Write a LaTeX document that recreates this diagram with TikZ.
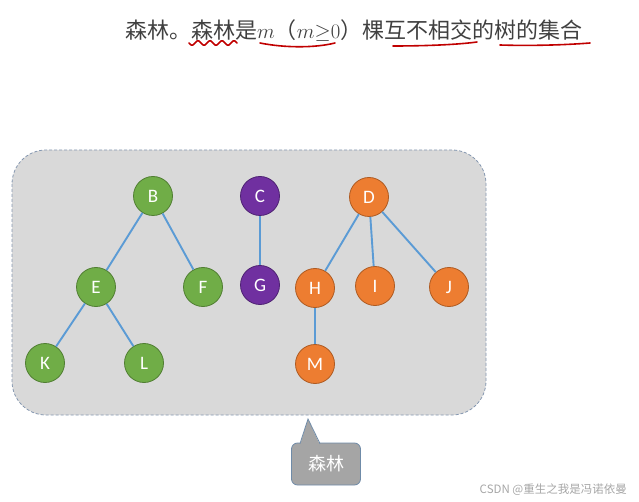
\documentclass[tikz,border=0pt]{standalone}
\usepackage{fontspec}
\newfontfamily\cjk{Noto Sans CJK SC}
\newfontfamily\nodefont{Carlito}
\definecolor{Verde}{HTML}{70AD47}
\definecolor{VerdeB}{HTML}{507E32}
\definecolor{Morado}{HTML}{7030A0}
\definecolor{MoradoB}{HTML}{4E2272}
\definecolor{Naranja}{HTML}{ED7D31}
\definecolor{NaranjaB}{HTML}{AE5A21}
\definecolor{Arista}{HTML}{5B9BD5}
\definecolor{Fondo}{HTML}{D9D9D9}
\definecolor{Borde}{HTML}{8497B0}
\definecolor{Globo}{HTML}{A5A5A5}
\definecolor{GloboB}{HTML}{6F8BA8}
\definecolor{Tinta}{HTML}{C00000}
\usetikzlibrary{positioning}

\begin{document}
\begin{tikzpicture}[
  x=1pt, y=-1pt,
  vert/.style={
    circle, minimum size=39pt, inner sep=0pt,
    line width=0.8pt, text=white,
    font=\nodefont\fontsize{19}{19}\selectfont
  },
  gtree/.style={vert, draw=VerdeB, fill=Verde},
  ptree/.style={vert, draw=MoradoB, fill=Morado},
  otree/.style={vert, draw=NaranjaB, fill=Naranja},
  edge/.style={line width=1.9pt, color=Arista},
  marca/.style={line width=1.6pt, color=Tinta, line cap=round}
]
\useasboundingbox (0,0) rectangle (639,502);

%% ── Título ───────────────────────────────────────────────────────────────
\node[anchor=west, inner sep=0pt, text=black!75,
      font=\cjk\fontsize{22}{24}\selectfont] (titulo) at (125,30)
  {森林。森林是$m$（$m{\geq}0$）棵互不相交的树的集合};

%% subrayados a mano
\draw[marca] plot[domain=189:237, samples=60, smooth]
  (\x, {43+2.2*sin(30*(\x-189))});
\draw[marca] (260,43) .. controls (285,48) and (315,48) .. (335,43);
\draw[marca] (393,46) .. controls (420,46) and (455,45) .. (477,42);
\draw[marca] (500,45) .. controls (530,46) and (565,45) .. (590,43);

%% ── Bosque (fondo) ───────────────────────────────────────────────────────
\draw[fill=Fondo, draw=Borde, line width=0.8pt,
      dash pattern=on 3pt off 2pt, rounded corners=34pt]
  (12,150) rectangle (486,415);

%% ── Árbol B ──────────────────────────────────────────────────────────────
\node[gtree] (B) at (153,196) {B};
\node[gtree] (E) at (96,287)  {E};
\node[gtree] (F) at (203,287) {F};
\node[gtree] (K) at (45,363)  {K};
\node[gtree] (L) at (144,363) {L};

%% ── Árbol C ──────────────────────────────────────────────────────────────
\node[ptree] (C) at (260,196) {C};
\node[ptree] (G) at (260,285) {G};

%% ── Árbol D ──────────────────────────────────────────────────────────────
\node[otree] (D) at (369,197) {D};
\node[otree] (H) at (315,288) {H};
\node[otree] (I) at (375,286) {I};
\node[otree] (J) at (449,287) {J};
\node[otree] (M) at (315,364) {M};

%% ── Aristas ──────────────────────────────────────────────────────────────
\draw[edge] (B) -- (E);
\draw[edge] (B) -- (F);
\draw[edge] (E) -- (K);
\draw[edge] (E) -- (L);
\draw[edge] (C) -- (G);
\draw[edge] (D) -- (H);
\draw[edge] (D) -- (I);
\draw[edge] (D) -- (J);
\draw[edge] (H) -- (M);

%% ── Globo "森林" ─────────────────────────────────────────────────────────
\node[rectangle, rounded corners=6pt, fill=Globo, draw=GloboB,
      line width=0.8pt, minimum width=69pt, minimum height=42pt,
      text=white, font=\cjk\fontsize{18}{18}\selectfont] (globo) at (326,464) {森林};
\coordinate (punta) at (308,419);
\fill[Globo] (300,445) -- (punta) -- (320,445) -- cycle;
\draw[GloboB, line width=0.8pt] (300,443.6) -- (punta) -- (320,443.6);

%% ── Marca de agua ────────────────────────────────────────────────────────
\node[anchor=east, inner sep=0pt, text=black!35,
      font=\cjk\fontsize{11.5}{13}\selectfont] (csdn) at (627,490)
  {CSDN @重生之我是冯诺依曼};

\end{tikzpicture}
\end{document}
